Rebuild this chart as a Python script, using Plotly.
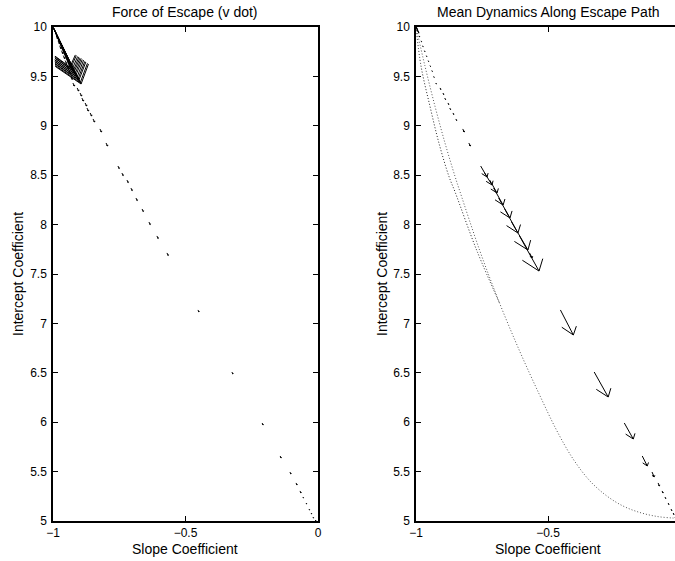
import plotly.graph_objects as go

# Escape path (slope coefficient, intercept coefficient)
path_x = [-1.000, -0.9993, -0.9986, -0.998, -0.9973, -0.9966, -0.996, -0.995, -0.994, -0.993, -0.992, -0.991,
          -0.988, -0.981, -0.975, -0.968, -0.961, -0.954, -0.947, -0.940, -0.933, -0.925,
          -0.909, -0.898, -0.891, -0.879, -0.872, -0.860, -0.849,
          -0.823, -0.800,
          -0.755, -0.740, -0.721, -0.706, -0.687, -0.664, -0.638, -0.608, -0.570,
          -0.453, -0.325, -0.211, -0.143, -0.106, -0.083, -0.068,
          -0.057, -0.045, -0.034, -0.026, -0.019, -0.010]
path_y = [10.000, 9.997, 9.993, 9.990, 9.986, 9.981, 9.977, 9.970, 9.965, 9.960, 9.954, 9.948,
          9.910, 9.860, 9.810, 9.760, 9.710, 9.660, 9.610, 9.560, 9.500, 9.433,
          9.383, 9.332, 9.281, 9.231, 9.180, 9.130, 9.069,
          8.968, 8.826,
          8.593, 8.522, 8.451, 8.370, 8.269, 8.158, 8.026, 7.885, 7.713,
          7.136, 6.508, 5.992, 5.658, 5.496, 5.385, 5.304,
          5.243, 5.182, 5.121, 5.081, 5.040, 5.010]

# Force of escape (v dot) vectors
force_u = [0.106, 0.102, 0.096, 0.092, 0.088, 0.082, 0.079, 0.073, 0.070, 0.064, 0.059, 0.055,
           0.006, 0.006, 0.006, 0.006, 0.006, 0.006, 0.006, 0.006, 0.006, 0.006,
           0.006, 0.006, 0.006, 0.006, 0.006, 0.006, 0.006,
           0.006, 0.006,
           0.005, 0.005, 0.005, 0.005, 0.005, 0.005, 0.005, 0.005, 0.005,
           0.004, 0.004, 0.004, 0.004, 0.004, 0.004, 0.004,
           0.002, 0.002, 0.002, 0.002, 0.002, 0.002]
force_v = [-0.577, -0.560, -0.534, -0.518, -0.494, -0.477, -0.453, -0.437, -0.412, -0.396, -0.371, -0.353,
           -0.030, -0.030, -0.030, -0.030, -0.030, -0.030, -0.030, -0.030, -0.030, -0.030,
           -0.030, -0.030, -0.030, -0.030, -0.030, -0.030, -0.030,
           -0.030, -0.030,
           -0.025, -0.025, -0.025, -0.025, -0.025, -0.025, -0.025, -0.025, -0.025,
           -0.020, -0.020, -0.020, -0.020, -0.020, -0.020, -0.020,
           -0.010, -0.010, -0.010, -0.010, -0.010, -0.010]

# Mean dynamics along escape path
mean_u = [0.002, 0.002, 0.002, 0.002, 0.002, 0.002, 0.002, 0.002, 0.002, 0.002, 0.002, 0.002,
          0.002, 0.002, 0.002, 0.002, 0.002, 0.002, 0.002, 0.002, 0.002, 0.002,
          0.003, 0.003, 0.003, 0.003, 0.003, 0.003, 0.003,
          0.006, 0.006,
          0.024, 0.028, 0.028, 0.036, 0.043, 0.050, 0.062, 0.074, 0.010,
          0.049, 0.053, 0.034, 0.019, 0.008, 0.005, 0.004,
          0.003, 0.003, 0.003, 0.003, 0.003, 0.003]
mean_v = [-0.010, -0.010, -0.010, -0.010, -0.010, -0.010, -0.010, -0.010, -0.010, -0.010, -0.010, -0.010,
          -0.010, -0.010, -0.010, -0.010, -0.010, -0.010, -0.010, -0.010, -0.010, -0.010,
          -0.015, -0.015, -0.015, -0.015, -0.015, -0.015, -0.015,
          -0.030, -0.030,
          -0.111, -0.121, -0.131, -0.172, -0.202, -0.243, -0.283, -0.355, -0.050,
          -0.253, -0.253, -0.162, -0.101, -0.050, -0.030, -0.020,
          -0.015, -0.015, -0.015, -0.015, -0.015, -0.015]

# Mean dynamics trajectories (dotted curves)
curveA_x = [-1.000, -0.981, -0.947, -0.913, -0.875, -0.852, -0.769, -0.682]
curveA_y = [10.000, 9.604, 9.197, 8.824, 8.486, 8.330, 7.733, 7.196]
curveB_x = [-1.000, -0.966, -0.928, -0.890, -0.852, -0.833, -0.758, -0.682, -0.606, -0.530,
            -0.466, -0.405, -0.341, -0.277, -0.216, -0.152, -0.087, -0.027, 0.000]
curveB_y = [10.000, 9.604, 9.197, 8.824, 8.486, 8.330, 7.733, 7.196, 6.711, 6.265,
            5.911, 5.628, 5.405, 5.253, 5.152, 5.086, 5.046, 5.030, 5.027]

x_tick_vals_left = [-1, -0.5, 0]
x_tick_text_left = ["\u22121", "\u22120.5", "0"]
x_tick_vals_right = [-1, -0.5]
x_tick_text_right = ["\u22121", "\u22120.5"]
y_tick_vals = [5, 5.5, 6, 6.5, 7, 7.5, 8, 8.5, 9, 9.5, 10]
y_tick_text = ["5", "5.5", "6", "6.5", "7", "7.5", "8", "8.5", "9", "9.5", "10"]


def quiver(x, y, u, v, alpha=0.33, beta=0.33):
    xs, ys = [], []
    for xi, yi, ui, vi in zip(x, y, u, v):
        tx, ty = xi + ui, yi + vi
        xs += [xi, tx, None]
        ys += [yi, ty, None]
        xs += [tx - alpha * (ui + beta * vi), tx, tx - alpha * (ui - beta * vi), None]
        ys += [ty - alpha * (vi - beta * ui), ty, ty - alpha * (vi + beta * ui), None]
    return xs, ys


W, H = 675, 561
FONT = "Liberation Sans, Arial, Helvetica, sans-serif"

fig = go.Figure()

qx, qy = quiver(path_x, path_y, force_u, force_v)
fig.add_trace(go.Scatter(x=qx, y=qy, mode="lines", line=dict(color="black", width=1),
                         xaxis="x", yaxis="y", showlegend=False, hoverinfo="skip"))

fig.add_trace(go.Scatter(x=curveA_x, y=curveA_y, mode="lines",
                         line=dict(color="#222222", width=1, dash="1px,2px", shape="spline"),
                         xaxis="x2", yaxis="y2", showlegend=False, hoverinfo="skip"))
fig.add_trace(go.Scatter(x=curveB_x, y=curveB_y, mode="lines",
                         line=dict(color="#555555", width=1, dash="1px,2px", shape="spline"),
                         xaxis="x2", yaxis="y2", showlegend=False, hoverinfo="skip"))
mx, my = quiver(path_x, path_y, mean_u, mean_v)
fig.add_trace(go.Scatter(x=mx, y=my, mode="lines", line=dict(color="black", width=1),
                         xaxis="x2", yaxis="y2", showlegend=False, hoverinfo="skip"))

axis_common = dict(showgrid=False, zeroline=False, showline=True, linecolor="black", linewidth=1.5,
                   ticks="inside", ticklen=5, tickcolor="black", tickwidth=1,
                   tickfont=dict(family=FONT, size=12, color="black"), automargin=False)

y0, y1 = 1 - 521 / H, 1 - 27 / H

fig.update_layout(
    width=W, height=H, margin=dict(l=0, r=0, t=0, b=0),
    paper_bgcolor="white", plot_bgcolor="white",
    xaxis=dict(domain=[53 / W, 318 / W], range=[-1, 0], tickvals=x_tick_vals_left,
               ticktext=x_tick_text_left, mirror="allticks", anchor="y",
               ticklabelstandoff=0, **axis_common),
    yaxis=dict(domain=[y0, y1], range=[5, 10], tickvals=y_tick_vals, ticktext=y_tick_text,
               mirror="allticks", anchor="x", ticklabelstandoff=2, **axis_common),
    xaxis2=dict(domain=[416 / W, 1.0], range=[-1, -1 + 259 / 264], tickvals=x_tick_vals_right,
                ticktext=x_tick_text_right, mirror="allticks", anchor="y2",
                ticklabelstandoff=0, **axis_common),
    yaxis2=dict(domain=[y0, y1], range=[5, 10], tickvals=y_tick_vals, ticktext=y_tick_text,
                mirror=False, anchor="x2", ticklabelstandoff=2, **axis_common),
)

ann_font = dict(family=FONT, size=14, color="black")
anns = [
    ("Force of Escape (v dot)", 185.5, 12, 0),
    ("Mean Dynamics Along Escape Path", 548, 12, 0),
    ("Slope Coefficient", 185.5, 549, 0),
    ("Slope Coefficient", 548, 549, 0),
    ("Intercept Coefficient", 18, 274, -90),
    ("Intercept Coefficient", 382, 274, -90),
]
for text, px, py, ang in anns:
    fig.add_annotation(text=text, x=px / W, y=1 - py / H, xref="paper", yref="paper",
                       showarrow=False, xanchor="center", yanchor="middle", textangle=ang,
                       font=ann_font)

fig.write_html("out.html")
